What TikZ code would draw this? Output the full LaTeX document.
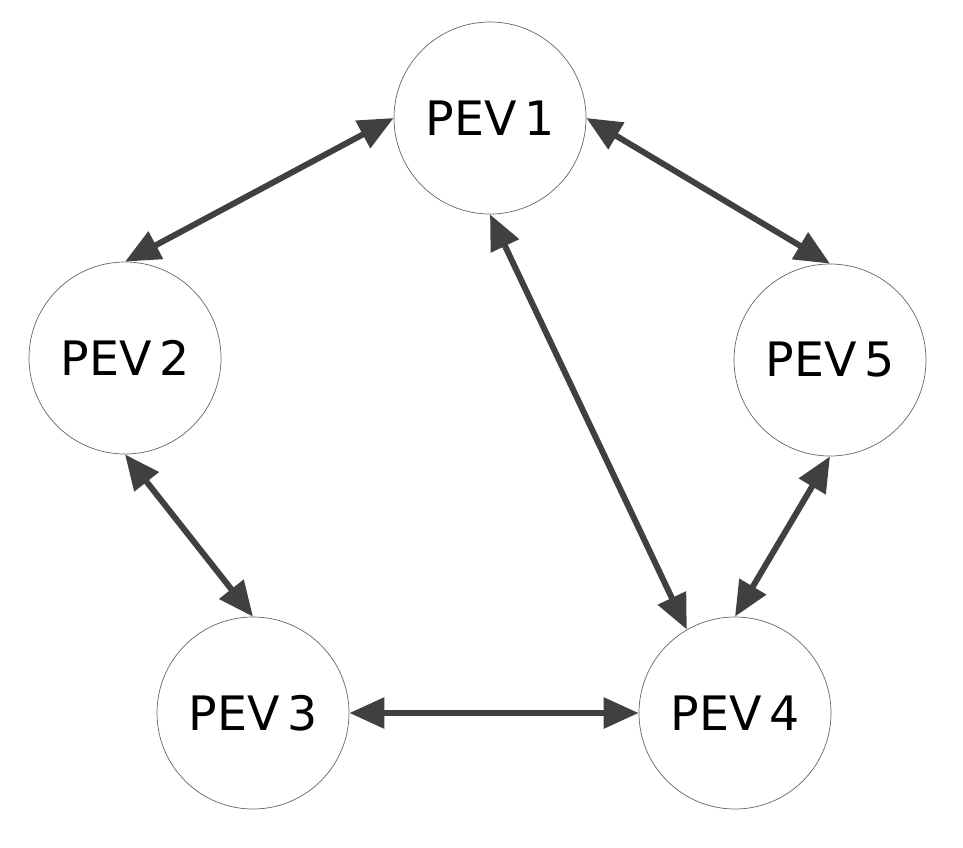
\documentclass[tikz,border=0pt]{standalone}
\usepackage{fontspec}
\setmainfont{DejaVu Sans}
\usetikzlibrary{arrows.meta}
\tikzset{
  >={Triangle[length=7mm,width=6mm]},
  % styles
  pev/.style={
    circle,
    draw=black!60,
    thin,
    minimum size=3.84cm,
    inner sep=0pt,
    font=\fontsize{27}{32}\selectfont,
  },
  link/.style={
    <->,
    draw=black!75,
    line width=3.4pt,
  }
}
\begin{document}
\begin{tikzpicture}
  \useasboundingbox (0,0) rectangle (19.26,-16.94);
  % nodes
  \node [pev] (p1) at (9.8,-2.36)   {PEV\,1};
  \node [pev] (p2) at (2.5,-7.16)   {PEV\,2};
  \node [pev] (p3) at (5.06,-14.26) {PEV\,3};
  \node [pev] (p4) at (14.7,-14.26) {PEV\,4};
  \node [pev] (p5) at (16.6,-7.2)   {PEV\,5};

  % links
  \draw [link] (p1.west)  -- (p2.north);
  \draw [link] (p1.east)  -- (p5.north);
  \draw [link] (p1.south) -- (p4.120);
  \draw [link] (p2.south) -- (p3.north);
  \draw [link] (p3.east)  -- (p4.west);
  \draw [link] (p4.north) -- (p5.south);
\end{tikzpicture}
\end{document}
